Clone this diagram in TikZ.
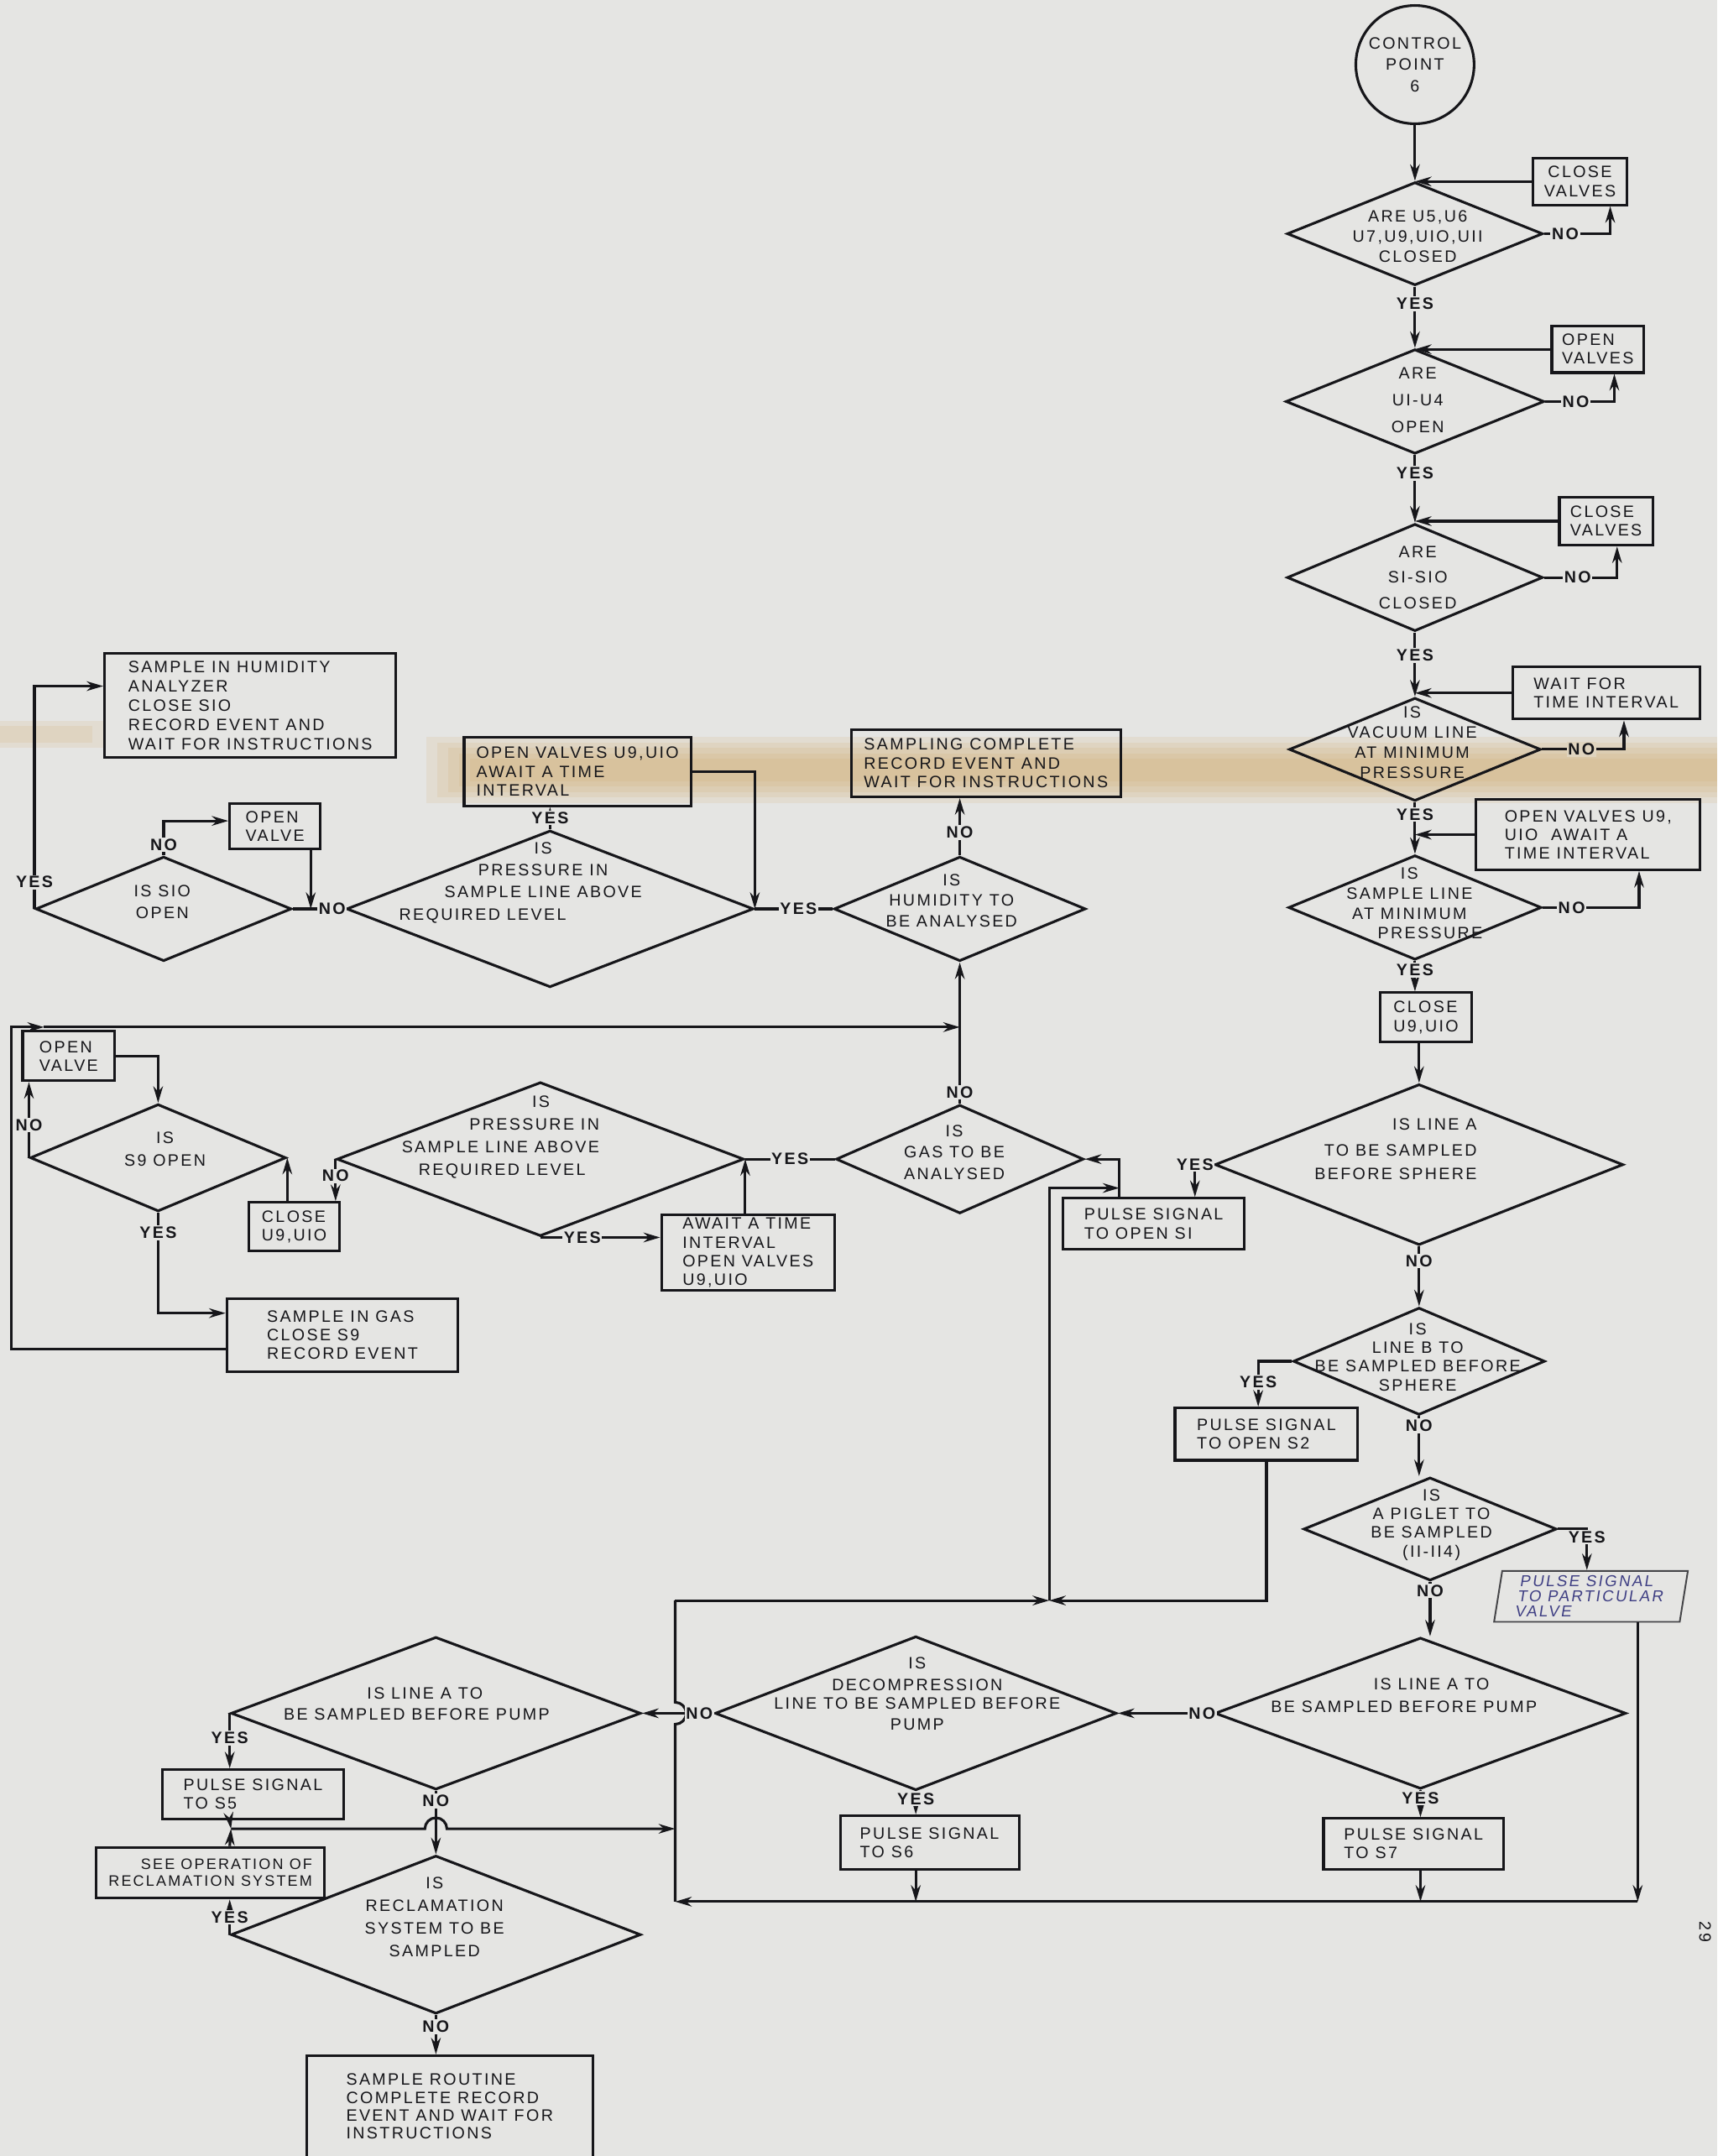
\documentclass[tikz,border=0pt]{standalone}
\usepackage{fontspec}
\setmainfont{Liberation Sans}[LetterSpace=12]
\usetikzlibrary{shapes.geometric,arrows.meta}

\definecolor{paper}{RGB}{229,229,227}
\definecolor{ink}{RGB}{22,22,26}
\definecolor{pencil}{RGB}{64,64,132}
\definecolor{tape}{RGB}{205,160,85}

\newcommand{\chartfont}{\fontsize{12}{13.5}\selectfont}
\newcommand{\tightfont}{\fontsize{11}{12}\selectfont}
\newcommand{\ynfont}{\fontsize{12}{13}\selectfont\bfseries}

\tikzset{
  line/.style={draw=ink, line width=1.9pt},
  flow/.style={line, ->},
  start/.style={circle, draw=ink, line width=1.9pt, minimum size=86pt, inner sep=0pt, align=center, text=ink, font=\chartfont},
  ques/.style 2 args={diamond, draw=ink, line width=1.9pt, inner sep=0pt, minimum width=#1pt, minimum height=#2pt},
  qtext/.style={align=center, inner sep=0pt, text=ink, font=\chartfont},
  proc/.style 2 args={rectangle, draw=ink, line width=1.9pt, align=left, inner sep=0pt, minimum width=#1pt, minimum height=#2pt, text=ink, font=\chartfont},
  yn/.style={fill=paper, inner sep=1pt, text=ink, font=\ynfont},
  stain/.style={fill=tape, opacity=0.12},
}

\begin{document}
\begin{tikzpicture}[x=1pt, y=-1pt, >={Stealth[length=12pt,width=7pt]}]
	\fill[paper] (0,0) rectangle (1249,1568);
	\useasboundingbox (0,0) rectangle (1249,1568);
	% the brown tape mark across the sheet
	\foreach \d in {0,4,8,12,16}
		\fill[stain] (310+2*\d,536+\d) rectangle (1249,584-\d);
	\foreach \d in {0,4}
		\fill[stain] (0,524+\d) rectangle (75-2*\d,544-\d);

	% valve checks, right hand column
	\node[start] (CP) at (1029,47) {CONTROL\\[2pt]POINT\\[2pt]6};
	\node[ques={186}{75}] (Q1) at (1029,170) {};
	\node[qtext] (Q1t) at (1031,172) {ARE U5,U6\\[1pt]U7,U9,UIO,UII\\[1pt]CLOSED};
	\node[proc={68}{34}, align=center] (B1) at (1149,132) {CLOSE\\VALVES};
	\node[ques={188}{76}] (Q2) at (1029,292) {};
	\node[qtext] (Q2t) at (1031,291) {ARE\\[6pt]UI-U4\\[6pt]OPEN};
	\node[proc={67}{34}] (B2) at (1162,254) {OPEN\\VALVES};
	\node[ques={186}{78}] (Q3) at (1029,420) {};
	\node[qtext] (Q3t) at (1031,420) {ARE\\[5pt]SI-SIO\\[5pt]CLOSED};
	\node[proc={68}{35}] (B3) at (1168,379) {CLOSE\\VALVES};
	\node[ques={183}{75}] (Q4) at (1029,545) {};
	\node[qtext] (Q4t) at (1027,540) {IS\\[1pt]VACUUM LINE\\[1pt]AT MINIMUM\hspace*{42pt}\\[1pt]PRESSURE};
	\node[proc={136}{38}] (B4) at (1168,504) {WAIT FOR\\TIME INTERVAL};
	\node[ques={184}{76}] (Q5) at (1029,660) {};
	\node[qtext] (Q5t) at (1025,657) {IS\\[1pt]SAMPLE LINE\\[1pt]AT MINIMUM\\[1pt]\hspace*{30pt}PRESSURE};
	\node[proc={163}{51}] (B5) at (1155,607) {OPEN VALVES U9,\\UIO\ \ AWAIT A\\TIME INTERVAL};
	\node[proc={67}{36}] (B6) at (1037,740) {CLOSE\\U9,UIO};

	% line selection
	\node[ques={297}{117}] (Q6) at (1032,847) {};
	\node[qtext, align=right] (Q6t) at (1015,836) {IS LINE A\\[5pt]TO BE SAMPLED\\[4pt]BEFORE SPHERE};
	\node[proc={132}{37}] (B7) at (839,890) {PULSE SIGNAL\\TO OPEN SI};
	\node[ques={183}{78}] (Q13) at (1032,990) {};
	\node[qtext] (Q13t) at (1031,987) {IS\\LINE B TO\\BE SAMPLED BEFORE\\SPHERE};
	\node[proc={133}{38}] (B16) at (921,1043) {PULSE SIGNAL\\TO OPEN S2};
	\node[ques={184}{75}] (Q14) at (1040,1112) {};
	\node[qtext] (Q14t) at (1041,1109) {IS\\A PIGLET TO\\BE SAMPLED\hspace*{56pt}\\(II-II4)};
	\begin{scope}[shift={(1157,1161)}, xslant=0.16]
		\node[proc={135}{37}, transform shape, draw=ink!80, line width=1.2pt, text=pencil, font=\fontsize{11.5}{11}\selectfont] (B17) at (0,0) {PULSE SIGNAL\\TO PARTICULAR\\VALVE};
	\end{scope}
	\node[ques={299}{110}] (Q15) at (1033,1246) {};
	\node[qtext] (Q15t) at (1021,1233) {\hspace*{40pt}IS LINE A TO\\[3pt]BE SAMPLED BEFORE PUMP};
	\node[proc={131}{37}] (B18) at (1028,1341) {PULSE SIGNAL\\TO S7};
	\node[ques={292}{112}] (Q16) at (666,1246) {};
	\node[qtext] (Q16t) at (667,1232) {IS\\[2pt]DECOMPRESSION\\LINE TO BE SAMPLED BEFORE\\[2pt]PUMP};
	\node[proc={130}{39}] (B19) at (676,1340) {PULSE SIGNAL\\TO S6};
	\node[ques={298}{111}] (Q17) at (317,1246) {};
	\node[qtext] (Q17t) at (303,1239) {\hspace*{12pt}IS LINE A TO\\[2pt]BE SAMPLED BEFORE PUMP};
	\node[proc={132}{36}] (B20) at (184,1305) {PULSE SIGNAL\\TO S5};
	\node[proc={166}{37}, align=right, font=\tightfont] (B21) at (153,1362) {SEE OPERATION OF\\RECLAMATION SYSTEM};
	\node[ques={298}{115}] (Q18) at (317,1407) {};
	\node[qtext] (Q18t) at (316,1394) {IS\\[3pt]RECLAMATION\\[3pt]SYSTEM TO BE\hspace*{28pt}\\[3pt]SAMPLED};
	\node[proc={208}{74}] (B22) at (327,1532) {SAMPLE ROUTINE\\[-0.5pt]COMPLETE RECORD\\[-0.5pt]EVENT AND WAIT FOR\\[-0.5pt]INSTRUCTIONS};

	% gas analysis
	\node[ques={180}{79}] (Q7) at (698,843) {};
	\node[qtext] (Q7t) at (694,838) {IS\\[2pt]GAS TO BE\\[2pt]ANALYSED};
	\node[ques={296}{112}] (Q8) at (393,843) {};
	\node[qtext, align=right] (Q8t) at (364,827) {IS\hspace*{36pt}\\[3pt]PRESSURE IN\\[3pt]SAMPLE LINE ABOVE\\[3pt]REQUIRED LEVEL\hspace*{10pt}};
	\node[proc={126}{55}] (B8) at (544,911) {AWAIT A TIME\\INTERVAL\\OPEN VALVES\\U9,UIO};
	\node[proc={66}{35}] (B9) at (214,892) {CLOSE\\U9,UIO};
	\node[ques={186}{78}] (Q9) at (115,842) {};
	\node[qtext] (Q9t) at (120,836) {IS\\[3pt]S9 OPEN};
	\node[proc={67}{36}] (B10) at (50,768) {OPEN\\VALVE};
	\node[proc={168}{53}] (B11) at (249,971) {SAMPLE IN GAS\\CLOSE S9\\RECORD EVENT};

	% humidity analysis
	\node[ques={183}{76}] (Q10) at (698,661) {};
	\node[qtext] (Q10t) at (692,655) {IS\\[1.5pt]HUMIDITY TO\\[1.5pt]BE ANALYSED};
	\node[proc={196}{49}] (B12) at (717,555) {SAMPLING COMPLETE\\RECORD EVENT AND\\WAIT FOR INSTRUCTIONS};
	\node[ques={296}{114}] (Q11) at (400,661) {};
	\node[qtext] (Q11t) at (395,642) {IS\\[2.5pt]PRESSURE IN\\[2.5pt]SAMPLE LINE ABOVE\\[2.5pt]REQUIRED LEVEL\hspace*{88pt}};
	\node[proc={165}{50}] (B13) at (420,561) {OPEN VALVES U9,UIO\\AWAIT A TIME\\INTERVAL};
	\node[ques={186}{76}] (Q12) at (119,661) {};
	\node[qtext] (Q12t) at (118,656) {IS SIO\\[2pt]OPEN};
	\node[proc={66}{33}] (B14) at (200,601) {OPEN\\VALVE};
	\node[proc={212}{76}] (B15) at (182,513) {SAMPLE IN HUMIDITY\\[0.5pt]ANALYZER\\[0.5pt]CLOSE SIO\\[0.5pt]RECORD EVENT AND\\[0.5pt]WAIT FOR INSTRUCTIONS};

	\node[text=ink, rotate=-90, font=\chartfont] (pg) at (1240,1405) {29};

	% corners of the return lines
	\coordinate (j0) at (491,1164);
	\coordinate (j1) at (763,1164);
	\coordinate (j3) at (814,864);
	\coordinate (b0) at (491,1383);
	\coordinate (b1) at (1191,1383);
	\coordinate (k0) at (168,1330);
	\coordinate (k1) at (491,1330);
	\coordinate (h0) at (8,747);
	\coordinate (h1) at (32,747);
	\coordinate (h2) at (8,981);
	\coordinate (m0) at (b0 |- Q16.west);
	\coordinate (m2) at (k0 -| Q17.south);

	% right hand column
	\draw[flow] (CP.south) -- (Q1.north);
	\draw[flow] (Q1.east) -| node[yn, pos=0.16] {NO} ([xshift=22pt]B1.south);
	\draw[flow] (B1.west) -- (B1.west -| Q1.north);
	\draw[flow] (Q1.south) -- node[yn, pos=0.28] {YES} (Q2.north);
	\draw[flow] (Q2.east) -| node[yn, pos=0.22] {NO} ([xshift=12pt]B2.south);
	\draw[flow] (B2.west) -- (B2.west -| Q2.north);
	\draw[flow] (Q2.south) -- node[yn, pos=0.27] {YES} (Q3.north);
	\draw[flow] (Q3.east) -| node[yn, pos=0.23] {NO} ([xshift=8pt]B3.south);
	\draw[flow] (B3.west) -- (B3.west -| Q3.north);
	\draw[flow] (Q3.south) -- node[yn, pos=0.36] {YES} (Q4.north);
	\draw[flow] (Q4.east) -| node[yn, pos=0.24, fill=tape!25!paper] {NO} ([xshift=13pt]B4.south);
	\draw[flow] (B4.west) -- (B4.west -| Q4.north);
	\draw[flow] (Q4.south) -- node[yn, pos=0.24] {YES} (Q5.north);
	\draw[flow] (B5.west) -- (B5.west -| Q5.north);
	\draw[flow] (Q5.east) -| node[yn, pos=0.15] {NO} ([xshift=37pt]B5.south);
	\draw[flow] (Q5.south) -- node[yn, pos=0.3] {YES} (Q5.south |- B6.north);
	\draw[flow] (Q6.north |- B6.south) -- (Q6.north);

	\draw[flow] (Q6.south) -- node[yn, pos=0.24] {NO} (Q13.north);
	\draw[flow] (Q6.west) -| node[yn, pos=0.5] {YES} ([xshift=30pt]B7.north);
	\draw[flow] ([xshift=-25pt]B7.north) |- (Q7.east);
	\draw[flow] (Q13.south) -- node[yn, pos=0.16] {NO} (Q13.south |- Q14.north);
	\draw[flow] (Q13.west) -| node[yn, pos=0.73] {YES} ([xshift=-6pt]B16.north);
	\draw[flow] (B16.south) |- (j1);
	\draw[flow] (j1) |- (j3);
	\draw[flow] (Q14.south) -- node[yn, pos=0.16] {NO} (Q14.south |- Q15.north);
	\draw[flow] (Q14.east) -| node[yn, pos=0.6] {YES} ([xshift=-6pt]B17.north);
	\draw[flow] (Q15.west) -- node[yn, pos=0.12] {NO} (Q16.east);
	\draw[flow] (Q15.south) -- node[yn, pos=0.3] {YES} (Q15.south |- B18.north);
	\draw[flow] (Q15.south |- B18.south) -- (Q15.south |- b0);
	\draw[flow] (Q16.south) -- node[yn, pos=0.33] {YES} (Q16.south |- B19.north);
	\draw[flow] (Q16.south |- B19.south) -- (Q16.south |- b0);
	\draw[flow] (b1 |- B17.south) -- (b1);
	\draw[flow] (b1) -- (b0);
	\draw[line] (b0) -- ([yshift=-8pt]m0) arc[start angle=-90, end angle=90, radius=8pt] -- (j0);
	\draw[flow] (j0) -- (j1);

	% gas analysis
	\draw[flow] (Q7.north) -- node[yn, pos=0.08] {NO} (Q7.north |- Q10.south);
	\draw[line] (Q7.west) -- node[yn, pos=0.5] {YES} (Q8.east);
	\draw[flow] (Q8.south) -- node[yn, pos=0.35] {YES} (Q8.south -| B8.west);
	\draw[flow] (Q8.east |- B8.north) -- (Q8.east);
	\draw[flow] (Q8.west) -- node[yn, pos=0.4] {NO} (Q8.west |- B9.north);
	\draw[flow] (Q9.east |- B9.north) -- (Q9.east);
	\draw[flow] (Q9.west) -- node[yn, pos=0.43] {NO} (Q9.west |- B10.south);
	\draw[flow] (B10.east) -| (Q9.north);
	\draw[flow] (Q9.south) |- node[yn, pos=0.1] {YES} ([yshift=16pt]B11.west);
	\draw[flow] ([yshift=-10pt]B11.west) -- (h2) -- (h0) -- (h1);
	\draw[flow] (h1) -- (Q7.north |- h0);

	% humidity analysis
	\draw[flow] (Q10.north) -- node[yn, pos=0.4] {NO} (Q10.north |- B12.south);
	\draw[line] (Q10.west) -- node[yn, pos=0.44] {YES} (Q11.east);
	\draw[flow] (B13.east) -| (Q11.east);
	\draw[flow] (Q11.north) -- node[yn, pos=0.5] {YES} (Q11.north |- B13.south);
	\draw[line] (Q11.west) -- node[yn, pos=0.25] {NO} (Q12.east);
	\draw[flow] ([xshift=26pt]B14.south) -- ([xshift=26pt]B14.south |- Q12.east);
	\draw[flow] (Q12.north) |- node[yn, pos=0.15] {NO} ([yshift=4pt]B14.west);
	\draw[flow] (Q12.west) |- node[yn, pos=0.06] {YES} ([yshift=14pt]B15.west);

	% pump side and reclamation
	\draw[flow] (Q16.west) -- node[yn, pos=0.2] {NO} (Q17.east);
	\draw[flow] (Q17.west) -- node[yn, pos=0.45] {YES} (Q17.west |- B20.north);
	\draw[flow] (Q17.west |- B20.south) -- (k0);
	\draw[flow] (Q18.west |- B21.north) -- (k0);
	\draw[flow] (k0) -- ([xshift=-8pt]m2) arc[start angle=180, end angle=0, radius=8pt] -- (k1);
	\draw[flow] (Q17.south) -- node[yn, pos=0.16] {NO} (Q18.north);
	\draw[flow] (Q18.west) -- node[yn, pos=0.5] {YES} (Q18.west |- B21.south);
	\draw[flow] (Q18.south) -- node[yn, pos=0.3] {NO} (Q18.south |- B22.north);
\end{tikzpicture}
\end{document}
